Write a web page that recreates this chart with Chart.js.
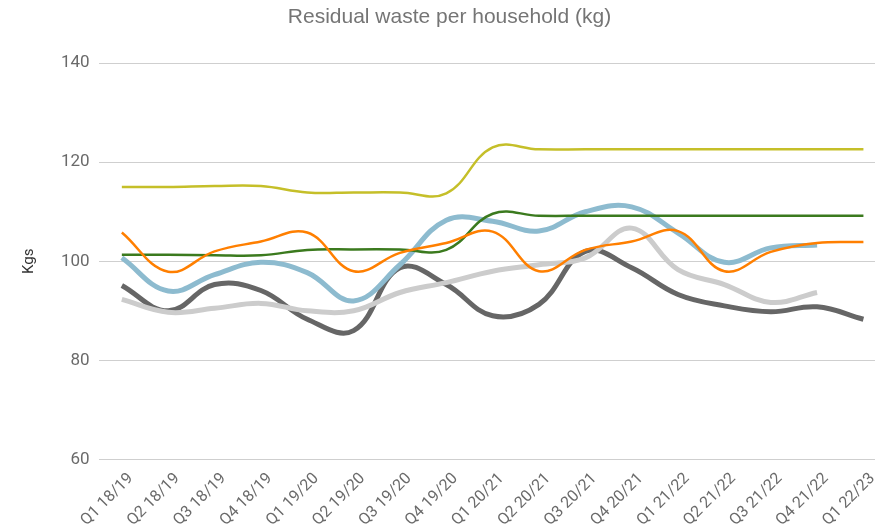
<!DOCTYPE html>
<html>
<head>
<meta charset="utf-8">
<script src="https://cdn.jsdelivr.net/npm/chart.js@4"></script>
<style>
  html, body { margin: 0; padding: 0; background: #fff; }
  #wrap { width: 879px; height: 532px; }
</style>
</head>
<body>
<div id="wrap"><canvas id="wasteChart" width="879" height="532"></canvas></div>
<script>
  const quarters = ['Q1 18/19', 'Q2 18/19', 'Q3 18/19', 'Q4 18/19', 'Q1 19/20', 'Q2 19/20', 'Q3 19/20', 'Q4 19/20',
    'Q1 20/21', 'Q2 20/21', 'Q3 20/21', 'Q4 20/21', 'Q1 21/22', 'Q2 21/22', 'Q3 21/22', 'Q4 21/22', 'Q1 22/23'];

  const oliveSeries = [115, 115, 115.2, 115.2, 113.9, 113.9, 113.9, 113.7, 123, 122.6, 122.6, 122.6, 122.6, 122.6, 122.6, 122.6, 122.6];
  const greenSeries = [101.3, 101.3, 101.2, 101.2, 102.3, 102.4, 102.4, 102.3, 109.6, 109.2, 109.2, 109.2, 109.2, 109.2, 109.2, 109.2, 109.2];
  const orangeSeries = [105.8, 97.9, 102, 104, 105.8, 98, 101.7, 103.7, 106, 98, 102.3, 104, 106.1, 98, 101.9, 103.7, 103.9];
  const blueSeries = [100.7, 94, 97.3, 99.8, 97.7, 92, 99.3, 108.3, 108.1, 106.1, 110, 111, 105.7, 99.8, 102.7, 103.3];
  const darkSeries = [95.1, 90, 95.3, 94.1, 88.3, 86, 98.7, 95.3, 89, 91.3, 102, 98.7, 93.3, 91, 89.8, 90.8, 88.3];
  const lightSeries = [92.3, 89.7, 90.5, 91.5, 90, 90, 93.7, 95.7, 98, 99.3, 100.7, 106.7, 98.3, 95.3, 91.7, 93.7];

  const yTicks = [60, 80, 100, 120, 140];

  // linear x so the first/last points can sit inside the gridlines like the original
  const toPoints = arr => arr.map((v, i) => ({ x: i, y: v }));

  function line(data, color, width, order) {
    return {
      data: toPoints(data),
      borderColor: color,
      backgroundColor: color,
      borderWidth: width,
      pointRadius: 0,
      tension: 0.4,
      fill: false,
      order: order
    };
  }

  const ctx = document.getElementById('wasteChart').getContext('2d');
  new Chart(ctx, {
    type: 'line',
    data: {
      datasets: [
        line(oliveSeries, '#c5bf29', 2.5, 1),
        line(orangeSeries, '#ff7f00', 2.5, 2),
        line(greenSeries, '#3b7a1e', 2.5, 3),
        line(blueSeries, '#8dbbcf', 5, 4),
        line(lightSeries, '#cccccc', 5, 5),
        line(darkSeries, '#666666', 5, 6)
      ]
    },
    options: {
      responsive: false,
      animation: false,
      layout: { padding: { left: 20, right: 0, top: 0, bottom: 0 } },
      plugins: {
        legend: { display: false },
        tooltip: { enabled: false },
        title: {
          display: true,
          text: 'Residual waste per household (kg)',
          color: '#757575',
          font: { family: 'Liberation Sans', size: 21, weight: 'normal' },
          padding: { top: 5, bottom: 33 }
        }
      },
      scales: {
        x: {
          type: 'linear',
          min: -0.5,
          max: 16.25,
          grid: { display: false },
          border: { display: false },
          afterBuildTicks: s => { s.ticks = quarters.map((_, i) => ({ value: i })); },
          ticks: {
            autoSkip: false,
            minRotation: 45,
            maxRotation: 45,
            padding: 2,
            labelOffset: 9,
            color: '#6a6a6a',
            font: { family: 'Roboto', size: 16 },
            callback: v => quarters[v]
          }
        },
        y: {
          min: 60,
          max: 140,
          afterBuildTicks: s => { s.ticks = yTicks.map(v => ({ value: v })); },
          grid: { color: '#cfcfcf', drawTicks: false },
          border: { display: false },
          ticks: {
            color: '#6a6a6a',
            padding: 9,
            font: { family: 'Roboto', size: 17 }
          },
          title: {
            display: true,
            text: 'Kgs',
            color: '#333333',
            font: { family: 'Roboto', size: 15 },
            padding: { top: 0, bottom: 14 }
          }
        }
      }
    }
  });
</script>
</body>
</html>
